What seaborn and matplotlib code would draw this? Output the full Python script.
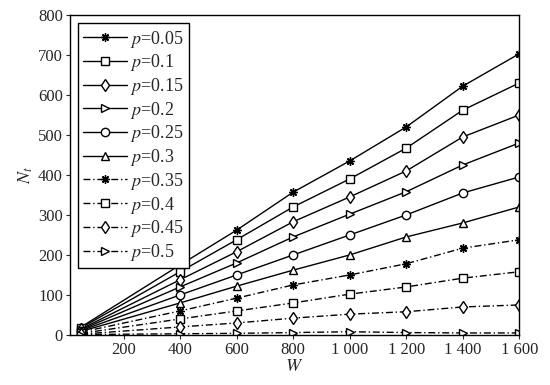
import matplotlib
matplotlib.use('Agg')
import matplotlib.pyplot as plt
import seaborn as sns

# Values
w_values = [50, 400, 600, 800, 1000, 1200, 1400, 1600]
p_labels = ['0.05', '0.1', '0.15', '0.2', '0.25', '0.3', '0.35', '0.4', '0.45', '0.5']
n_p005 = [20, 175, 262, 357, 435, 520, 622, 703]
n_p010 = [18, 158, 238, 320, 390, 467, 562, 630]
n_p015 = [15, 138, 208, 283, 345, 410, 495, 550]
n_p020 = [13, 120, 180, 245, 302, 358, 425, 480]
n_p025 = [11, 100, 150, 200, 250, 300, 355, 395]
n_p030 = [9, 80, 122, 162, 200, 245, 280, 320]
n_p035 = [7, 60, 92, 125, 150, 178, 217, 238]
n_p040 = [4, 40, 60, 80, 102, 120, 142, 158]
n_p045 = [2, 20, 30, 42, 52, 58, 70, 75]
n_p050 = [1, 3, 4, 6, 8, 6, 5, 5]
x_ticks = [200, 400, 600, 800, 1000, 1200, 1400, 1600]
x_tick_labels = ['200', '400', '600', '800', '1 000', '1 200', '1 400', '1 600']
y_ticks = [0, 100, 200, 300, 400, 500, 600, 700, 800]

series = [n_p005, n_p010, n_p015, n_p020, n_p025,
          n_p030, n_p035, n_p040, n_p045, n_p050]
markers = [(8, 2, 0), 's', 'd', '>', 'o', '^', (8, 2, 0), 's', 'd', '>']
dashdot = (5, 2, 1, 2)

sns.set_style('ticks')
plt.rcParams['font.family'] = ['Liberation Serif', 'DejaVu Serif']
plt.rcParams['mathtext.fontset'] = 'stix'

fig = plt.figure(figsize=(5.5, 3.85), dpi=100)
ax = fig.add_axes([0.127, 0.13, 0.817, 0.831])

for i, vals in enumerate(series):
    solid = i < 6
    sns.lineplot(x=w_values, y=vals, ax=ax, color='black', linewidth=1.0,
                 marker=markers[i], markersize=6, markerfacecolor='white',
                 markeredgecolor='black', markeredgewidth=1.0,
                 linestyle='-' if solid else (0, dashdot),
                 label='$p$=' + p_labels[i])

ax.set_xlim(10, 1600)
ax.set_ylim(0, 800)
ax.set_xticks(x_ticks)
ax.set_xticklabels(x_tick_labels)
ax.set_yticks(y_ticks)
ax.tick_params(labelsize=12, direction='out', length=3, width=0.8, pad=2)
for side in ['top', 'right', 'left', 'bottom']:
    ax.spines[side].set_visible(True)
    ax.spines[side].set_color('black')
    ax.spines[side].set_linewidth(1.0)

ax.set_xlabel('$W$', fontsize=13, labelpad=0)
ax.set_ylabel('$N_t$', fontsize=13, labelpad=2)

leg = ax.legend(loc='upper left', fontsize=13, frameon=True, fancybox=False,
                edgecolor='black', framealpha=1, labelspacing=0.15,
                handlelength=2.4, handletextpad=0.2, borderpad=0.3,
                borderaxespad=0.45)
leg.get_frame().set_linewidth(1.0)

fig.savefig('out.png', dpi=100)
